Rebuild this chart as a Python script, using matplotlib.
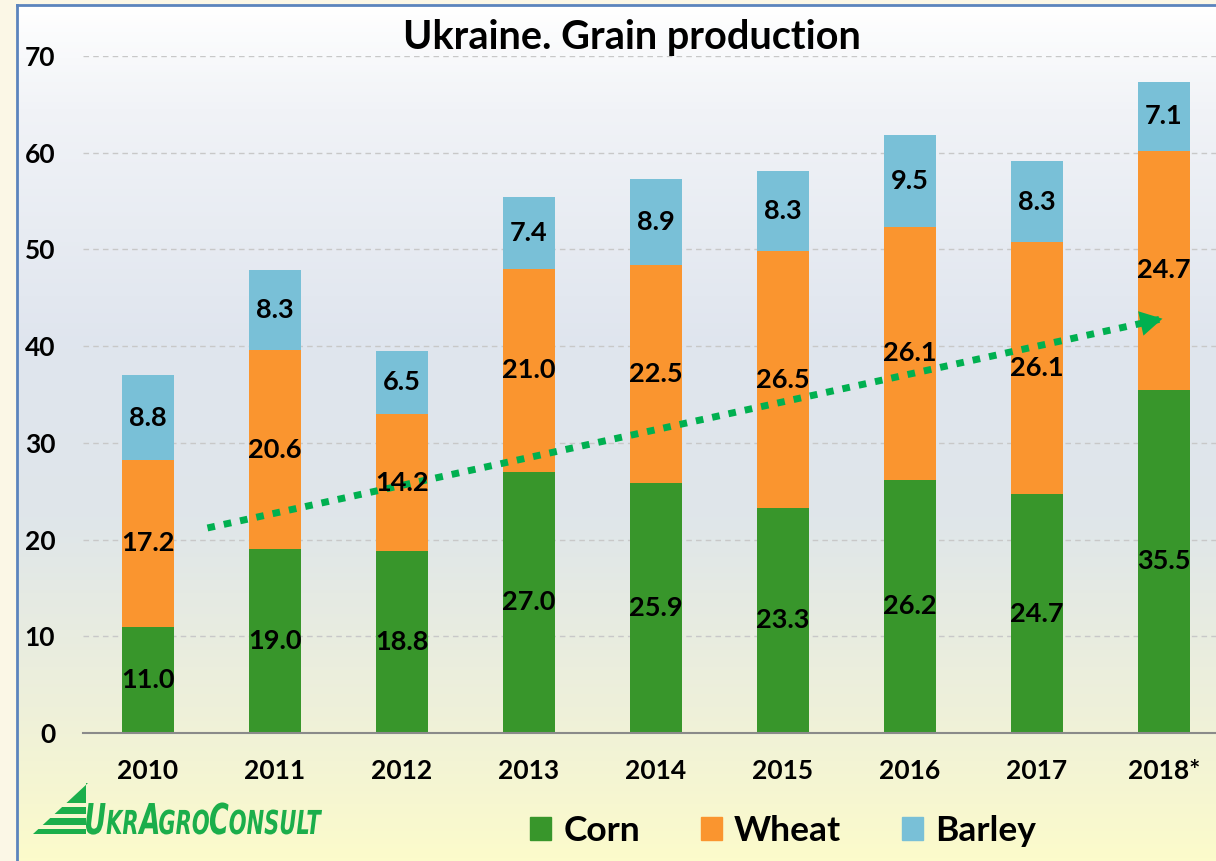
import matplotlib.pyplot as plt
import matplotlib.colors as mcolors
import numpy as np
from matplotlib.patches import Patch, Polygon, PathPatch
from matplotlib.textpath import TextPath
from matplotlib.font_manager import FontProperties
from matplotlib.transforms import Affine2D, IdentityTransform

# Data (million tonnes)
years = ["2010", "2011", "2012", "2013", "2014", "2015", "2016", "2017", "2018*"]
corn = [11.0, 19.0, 18.8, 27.0, 25.9, 23.3, 26.2, 24.7, 35.5]
wheat = [17.2, 20.6, 14.2, 21.0, 22.5, 26.5, 26.1, 26.1, 24.7]
barley = [8.8, 8.3, 6.5, 7.4, 8.9, 8.3, 9.5, 8.3, 7.1]
trend_x = [0.47, 8.01]
trend_y = [21.2, 42.9]

c_corn = "#38962B"
c_wheat = "#FA952F"
c_barley = "#79C0D7"
c_trend = "#00B050"
FONT = "Lato"

W, H = 1216, 861
fig = plt.figure(figsize=(W / 100, H / 100), dpi=100)
fig.patch.set_facecolor("#FBF7E6")

# background panel with gradient
bg = fig.add_axes([17 / W, 0, 1 - 17 / W, 1 - 5 / H], zorder=-5)
cmap = mcolors.LinearSegmentedColormap.from_list(
    "bg", [(0, "#FFFFFF"), (0.12, "#F1F3F7"), (0.4, "#DFE5EE"),
           (0.6, "#DFE6EA"), (0.82, "#EEF0DA"), (1, "#FCFBCB")])
grad = np.linspace(0, 1, 256).reshape(-1, 1)
bg.imshow(grad, aspect="auto", cmap=cmap, extent=[0, 1, 0, 1], origin="upper")
bg.set_xlim(0, 1)
bg.set_ylim(0, 1)
bg.set_xticks([])
bg.set_yticks([])
for s in ["right", "bottom"]:
    bg.spines[s].set_visible(False)
for s in ["left", "top"]:
    bg.spines[s].set_color("#5B84BD")
    bg.spines[s].set_linewidth(2)

ax = fig.add_axes([83 / W, 1 - 733 / H, 1 - 83 / W, 677 / H])
ax.patch.set_alpha(0)
x = np.arange(len(years))
bw = 0.41
bot2 = np.array(corn) + np.array(wheat)
ax.bar(x, corn, bw, color=c_corn, zorder=3)
ax.bar(x, wheat, bw, bottom=corn, color=c_wheat, zorder=3)
ax.bar(x, barley, bw, bottom=bot2, color=c_barley, zorder=3)

lab = dict(ha="center", va="center", fontsize=19.5, fontweight="bold",
           family=FONT, color="black", zorder=6)
for i in range(len(years)):
    ax.text(x[i], corn[i] / 2, f"{corn[i]:.1f}", **lab)
    ax.text(x[i], corn[i] + wheat[i] / 2, f"{wheat[i]:.1f}", **lab)
    ax.text(x[i], bot2[i] + barley[i] / 2, f"{barley[i]:.1f}", **lab)

# trend arrow
ax.plot(trend_x, trend_y, color=c_trend, lw=5, dashes=(1.1, 1.3),
        dash_capstyle="butt", zorder=5)
dx = trend_x[1] - trend_x[0]
dy = trend_y[1] - trend_y[0]
ax.annotate("", xy=(trend_x[1], trend_y[1]),
            xytext=(trend_x[1] - dx * 0.02, trend_y[1] - dy * 0.02),
            arrowprops=dict(arrowstyle="-|>,head_length=1.6,head_width=0.9",
                            color=c_trend, lw=0), zorder=5)

ax.set_xlim(-0.51, 8.41)
ax.set_ylim(0, 70)
ax.set_yticks(range(0, 71, 10))
ax.set_xticks(x)
ax.set_xticklabels(years)
ax.yaxis.grid(True, color="#C8C8C8", linestyle=(0, (4, 3)), lw=1)
ax.set_axisbelow(True)
for s in ["left", "right", "top"]:
    ax.spines[s].set_visible(False)
ax.spines["bottom"].set_color("#8A8A8A")
ax.spines["bottom"].set_linewidth(1.5)
ax.spines["bottom"].set_zorder(4)
ax.tick_params(length=0)
ax.tick_params(axis="y", pad=20)
ax.tick_params(axis="x", pad=19)
for t in ax.get_xticklabels() + ax.get_yticklabels():
    t.set_fontsize(19)
    t.set_fontweight("bold")
    t.set_family(FONT)

fig.text(632 / W, 1 - 37 / H, "Ukraine. Grain production", ha="center",
         va="center", fontsize=28.5, fontweight="bold", family=FONT)

handles = [Patch(color=c_corn, label="Corn"),
           Patch(color=c_wheat, label="Wheat"),
           Patch(color=c_barley, label="Barley")]
fig.legend(handles=handles, loc="center", bbox_to_anchor=(783 / W, 1 - 831 / H),
           ncol=3, frameon=False, handlelength=0.6, handleheight=0.6,
           handletextpad=0.35, columnspacing=1.7,
           prop=dict(family=FONT, weight="bold", size=25.5))

# logo
logo_c = "#1BAE4B"
def px(xp, yp):
    return (xp / W, 1 - yp / H)

bands = [(783, 803), (807, 814), (818, 825), (829, 834)]
for y0, y1 in bands:
    xa = 33 + (834 - y1) * 55 / 51
    xb = 33 + (834 - y0) * 55 / 51
    fig.patches.append(Polygon([px(xa, y1), px(xb, y0), px(86, y0), px(86, y1)],
                               closed=True, transform=fig.transFigure,
                               color=logo_c, lw=0))

fp = FontProperties(family="DejaVu Sans", weight="bold", style="oblique")
pieces = [("U", 42.5), ("KR", 33), ("A", 42.5), ("GRO", 33), ("C", 42.5), ("ONSULT", 33)]
paths = []
off = 0
for txt, size in pieces:
    tp = TextPath((0, 0), txt, size=size, prop=fp)
    ext = tp.get_extents()
    paths.append((tp, off - ext.x0))
    off += ext.x1 - ext.x0 + 1.5
sx = (323 - 86) / off
for tp, o in paths:
    tr = Affine2D().translate(o, 0).scale(sx, 1).translate(86, H - 834)
    fig.patches.append(PathPatch(tr.transform_path(tp), transform=IdentityTransform(),
                                 color=logo_c, lw=0))

fig.savefig("out.png", dpi=100)
